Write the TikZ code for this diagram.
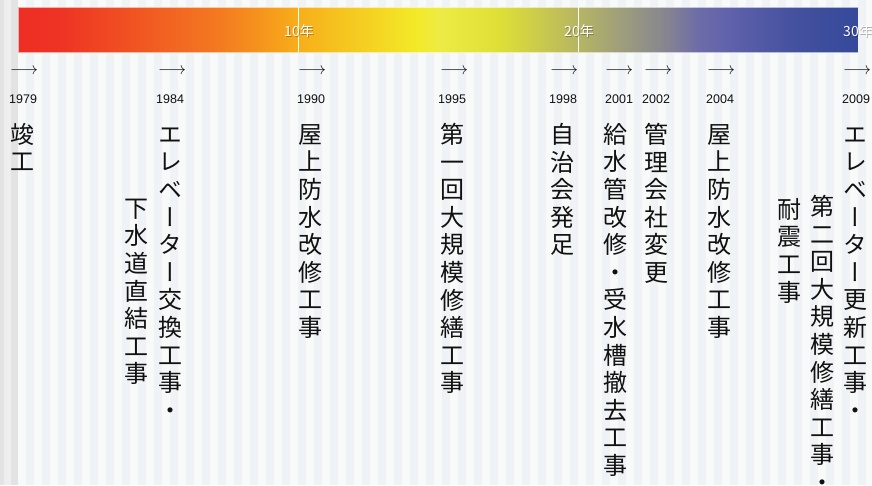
\documentclass[tikz,border=0pt]{standalone}
\usepackage{fontspec}
\setmainfont{Liberation Sans}
\newfontfamily\jpfont[RawFeature=+vert]{Noto Sans CJK JP}
\newfontfamily\jpplain{Noto Sans CJK JP}
\definecolor{s0}{HTML}{EE2E24}
\definecolor{s1}{HTML}{EE3324}
\definecolor{s2}{HTML}{F47B20}
\definecolor{s3}{HTML}{F7AF1A}
\definecolor{s4}{HTML}{F3EA28}
\definecolor{s5}{HTML}{EDEB45}
\definecolor{s6}{HTML}{DEDF36}
\definecolor{s7}{HTML}{B6B563}
\definecolor{s8}{HTML}{9D9D7D}
\definecolor{s9}{HTML}{858490}
\definecolor{s10}{HTML}{6D6CA9}
\definecolor{s11}{HTML}{5E60AA}
\definecolor{s12}{HTML}{42509E}
\definecolor{s13}{HTML}{36499B}
\definecolor{bgA}{HTML}{F8F9F9}
\definecolor{bgB}{HTML}{F0F3F5}
\definecolor{edgeA}{HTML}{E3E3E3}
\definecolor{edgeB}{HTML}{EEEEEE}
\definecolor{ink}{HTML}{111111}
\pgfdeclarehorizontalshading{timebar}{100bp}{color(0bp)=(s0); color(25bp)=(s0); color(27.5bp)=(s1); color(37.15bp)=(s2); color(41.8bp)=(s3); color(48.75bp)=(s4); color(50.1bp)=(s5); color(53.7bp)=(s6); color(58.35bp)=(s7); color(61bp)=(s8); color(63.65bp)=(s9); color(65.5bp)=(s10); color(67.55bp)=(s11); color(71.5bp)=(s12); color(75bp)=(s13); color(100bp)=(s13)}
\newcommand\vstrut{\rule{0pt}{20pt}}
\tikzset{
  vt/.style={anchor=north, inner sep=0pt, align=center, text=ink,
    font=\jpfont\fontsize{24}{27.6}\selectfont},
  yearlbl/.style={anchor=base west, inner sep=0pt, text=ink,
    font=\fontsize{12.5}{14}\selectfont},
  arrowsym/.style={anchor=base west, inner sep=0pt, text=ink,
    font=\fontsize{16.5}{18}\selectfont},
  tickline/.style={draw=white, line width=0.8pt},
  ticklbl/.style={inner sep=0pt, text=white, font=\jpplain\fontsize{14}{16}\selectfont},
  tickshadow/.style={inner sep=0pt, text=black, opacity=0.3, font=\jpplain\fontsize{14}{16}\selectfont}
}
\begin{document}
\begin{tikzpicture}[x=1pt,y=-1pt]
\useasboundingbox (0,0) rectangle (872,485);
\clip (0,0) rectangle (872,485);
% background
\fill[edgeA] (0,0) rectangle (18,485);
\fill[edgeB] (4,0) rectangle (11,485);
\fill[bgA] (18,0) rectangle (872,485);
\foreach \i in {0,...,53}
  \fill[bgB] ({26+16*\i},0) rectangle ({34+16*\i},485);
% time bar
\shade[shading=timebar] (18,7) rectangle (858,52);
\draw[white, opacity=0.6, line width=0.6pt] (18,7) rectangle (858,52);
\coordinate (t10a) at (298,7);  \coordinate (t10b) at (298,52);
\coordinate (t20a) at (578,7);  \coordinate (t20b) at (578,52);
\draw[tickline] (t10a) -- (t10b);
\draw[tickline] (t20a) -- (t20b);
\node[tickshadow] (s10) at (299.9,32.4) {10年};
\node[tickshadow] (s20) at (579.9,32.4) {20年};
\node[tickshadow] (s30) at (858.9,32.4) {30年};
\node[ticklbl] (l10) at (299,31.5) {10年};
\node[ticklbl] (l20) at (579,31.5) {20年};
\node[ticklbl] (l30) at (858,31.5) {30年};
% arrows and years
\foreach \yr/\ax/\yx in {1979/10/9, 1984/158/156, 1990/298/297, 1995/440/438, 1998/550/549, 2001/605/605, 2002/644/642, 2004/707/706, 2009/843/842}{
  \node[arrowsym] (a\yr) at (\ax,74) {$\longrightarrow$};
  \node[yearlbl] (y\yr) at (\yx,103) {\yr};
}
% vertical event texts
\node[vt] (e1979) at (22,123) {\vstrut 竣\\工};
\node[vt] (e1984a) at (170.5,123) {\vstrut エ\\レ\\ベ\\ー\\タ\\ー\\交\\換\\工\\事\\・};
\node[vt] (e1984b) at (136,197) {\vstrut 下\\水\\道\\直\\結\\工\\事};
\node[vt] (e1990) at (310,123) {\vstrut 屋\\上\\防\\水\\改\\修\\工\\事};
\node[vt] (e1995) at (452,123) {\vstrut 第\\一\\回\\大\\規\\模\\修\\繕\\工\\事};
\node[vt] (e1998) at (562,123) {\vstrut 自\\治\\会\\発\\足};
\node[vt] (e2001) at (615,123) {\vstrut 給\\水\\管\\改\\修\\・\\受\\水\\槽\\撤\\去\\工\\事};
\node[vt] (e2002) at (656,123) {\vstrut 管\\理\\会\\社\\変\\更};
\node[vt] (e2004) at (719,123) {\vstrut 屋\\上\\防\\水\\改\\修\\工\\事};
\node[vt] (e2009a) at (855,123) {\vstrut エ\\レ\\ベ\\ー\\タ\\ー\\更\\新\\工\\事\\・};
\node[vt] (e2009b) at (822,195) {\vstrut 第\\二\\回\\大\\規\\模\\修\\繕\\工\\事\\・};
\node[vt] (e2009c) at (789,198) {\vstrut 耐\\震\\工\\事};
\end{tikzpicture}
\end{document}
